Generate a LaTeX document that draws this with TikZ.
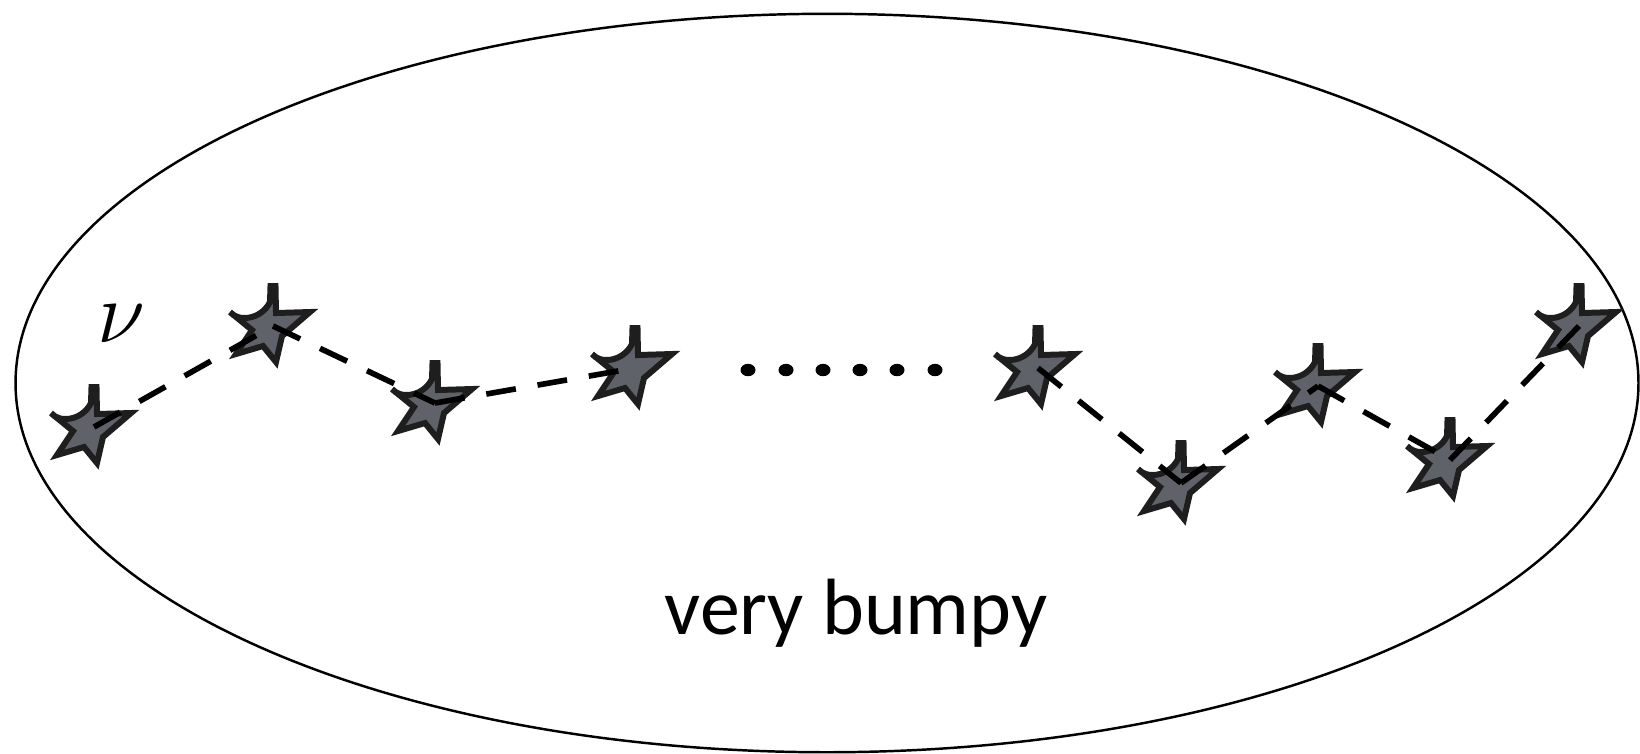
\documentclass[tikz,border=0pt]{standalone}
\usepackage{fontspec}
\newfontfamily\labelfont{Carlito}
\definecolor{starfill}{HTML}{5F6269}
\definecolor{starline}{HTML}{1E1E1E}
\tikzset{
  bumpstar/.pic={
    \filldraw[fill=starfill, draw=starline, line width=1.7pt]
      (-2.5,-40) -- (2.5,-40) -- (3,-13) -- (37,-14) -- (9,10) -- (3,36)
      -- (-10,20) -- (-37,28) -- (-21,4) -- (-43,-14)
      .. controls (-35,-4) and (-12,-6) .. (-3,-24) -- cycle;
  },
  hop/.style={line width=1.6pt, dash pattern=on 0.3cm off 0.22cm},
  dot/.style={fill=black},
}
\begin{document}
\begin{tikzpicture}[x=0.01cm, y=-0.01cm]
  \useasboundingbox (0,0) rectangle (1640,753);
  % outer region
  \draw[line width=0.7pt] (827,383) ellipse [x radius=8.11cm, y radius=3.69cm];

  % chain points
  \coordinate (s1) at (94,427);
  \coordinate (s2) at (273,326);
  \coordinate (s3) at (435,403);
  \coordinate (s4) at (635,368);
  \coordinate (s5) at (1038,368);
  \coordinate (s6) at (1181,483);
  \coordinate (s7) at (1318,386);
  \coordinate (s8) at (1450,460);
  \coordinate (s9) at (1579,326);

  \foreach \s in {s1,s2,s3,s4,s5,s6,s7,s8,s9}
    \pic at (\s) {bumpstar};

  % dashed steps between neighbours
  \draw[hop] (s1) -- (s2);
  \draw[hop] (s2) -- (s3);
  \draw[hop] (s3) -- (s4);
  \draw[hop] (s5) -- (s6);
  \draw[hop] (s6) -- (s7);
  \draw[hop] (s7) -- (s8);
  \draw[hop] (s8) -- (s9);

  % ellipsis between the two halves of the chain
  \foreach \x in {748,786,823,860,897,935}
    \fill[dot] (\x,370) ellipse [x radius=0.075cm, y radius=0.062cm];

  \node[inner sep=0pt] (nu) at (121,324) {\fontsize{30}{30}\selectfont$\nu$};
  \node[inner sep=0pt, anchor=base] (caption) at (856,634)
    {\labelfont\fontsize{22.7}{26}\selectfont very bumpy};
\end{tikzpicture}
\end{document}
